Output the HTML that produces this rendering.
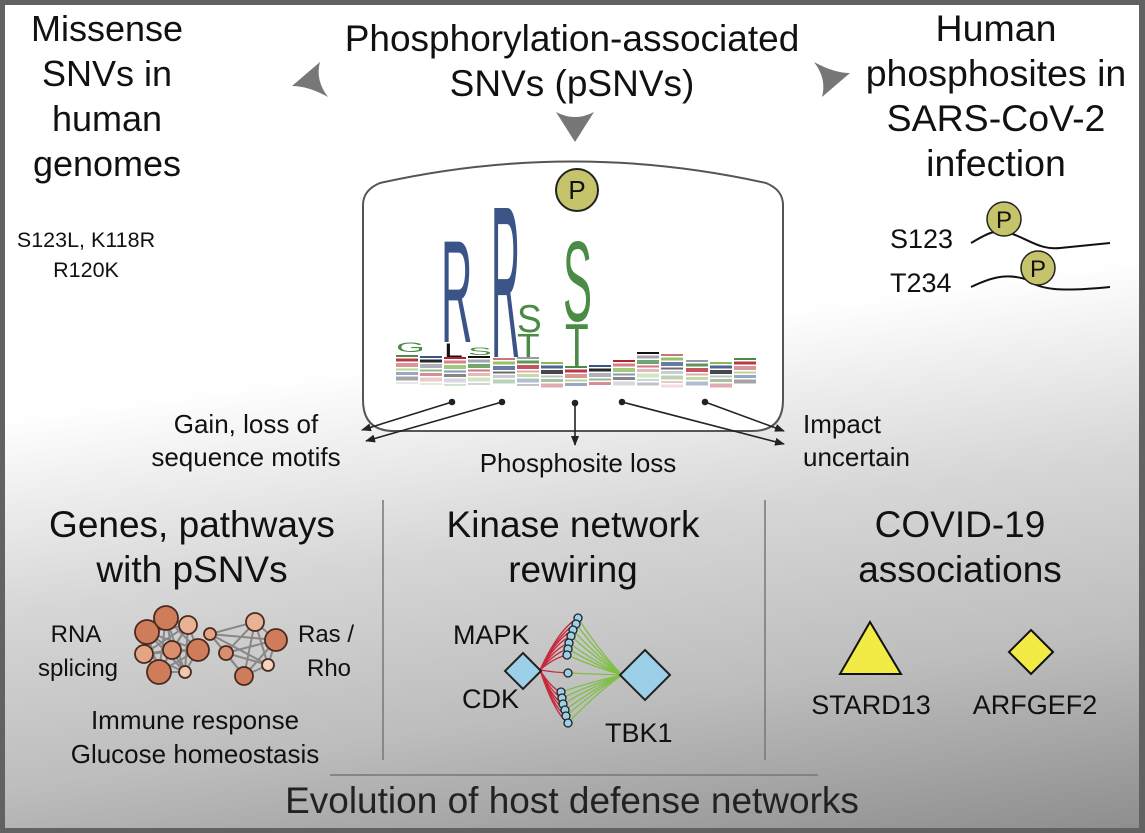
<!DOCTYPE html>
<html><head><meta charset="utf-8"><style>
html,body{margin:0;padding:0;width:1145px;height:833px;overflow:hidden;}
#wrap{position:relative;width:1145px;height:833px;background:#626262;}
#inner{position:absolute;left:5px;top:5px;width:1134px;height:823px;
background:linear-gradient(172deg,#ffffff 0%,#ffffff 42%,#d6d6d6 62%,#bdbdbd 80%,#8e8e8e 100%);}
svg{position:absolute;left:0;top:0;}
text{font-family:"Liberation Sans",sans-serif;fill:#111;}
</style></head><body>
<div id="wrap">
<div id="inner"></div>
<svg width="1145" height="833" viewBox="0 0 1145 833">
<defs>
<marker id="ah" markerWidth="10" markerHeight="8" refX="9" refY="4" orient="auto" markerUnits="userSpaceOnUse"><path d="M0,0 L10,4 L0,8 z" fill="#222"/></marker>
</defs>

<g font-size="36" text-anchor="middle">
<text x="107" y="41">Missense</text><text x="107" y="86">SNVs in</text><text x="107" y="131">human</text><text x="107" y="176">genomes</text>
</g>
<g font-size="37" text-anchor="middle">
<text x="572" y="51">Phosphorylation-associated</text><text x="572" y="96">SNVs (pSNVs)</text>
</g>
<g font-size="37.5" text-anchor="middle">
<text x="996" y="41">Human</text><text x="996" y="86">phosphosites in</text><text x="996" y="131">SARS-CoV-2</text><text x="996" y="176">infection</text>
</g>

<path d="M292,86 L320,62 Q315,80 328,97 Q308,86 292,86z" fill="#777"/>
<path d="M575,142 L556,112 Q575,122 594,112z" fill="#777"/>
<path d="M850,73 L822,97 Q827,79 814,62 Q834,73 850,73z" fill="#777"/>

<g font-size="21.5" text-anchor="middle">
<text x="86" y="247">S123L, K118R</text><text x="86" y="277">R120K</text>
</g>

<g>
<text x="890" y="248" font-size="27">S123</text>
<text x="890" y="292" font-size="27">T234</text>
<path d="M971,243 C985,235 995,228 1010,233 C1030,240 1040,250 1060,248 L1110,243" fill="none" stroke="#111" stroke-width="2"/>
<path d="M971,287 C990,278 1005,273 1025,279 C1040,290 1060,292 1110,287" fill="none" stroke="#111" stroke-width="2"/>
<circle cx="1004" cy="219" r="17" fill="#c6c46a" stroke="#222" stroke-width="1.5"/><text x="1004" y="228" font-size="24" text-anchor="middle">P</text>
<circle cx="1038" cy="268" r="17" fill="#c6c46a" stroke="#222" stroke-width="1.5"/><text x="1038" y="277" font-size="24" text-anchor="middle">P</text>
</g>

<path d="M363,205 Q363,190 380,183 Q573,140 766,183 Q783,190 783,205 L783,400 Q783,431 752,431 L394,431 Q363,431 363,400 Z" fill="#fff" stroke="#555" stroke-width="2"/>
<circle cx="577" cy="190" r="21" fill="#c6c46a" stroke="#222" stroke-width="2"/>
<text x="577" y="199" font-size="26" text-anchor="middle">P</text>

<g id="logo"></g>

<g stroke="#222" stroke-width="1.6" fill="#222">
<line x1="452" y1="402" x2="362" y2="430" marker-end="url(#ah)"/>
<line x1="502" y1="402" x2="366" y2="441" marker-end="url(#ah)"/>
<line x1="575" y1="403" x2="575" y2="445" marker-end="url(#ah)"/>
<line x1="622" y1="402" x2="784" y2="444" marker-end="url(#ah)"/>
<line x1="705" y1="402" x2="784" y2="431" marker-end="url(#ah)"/>
<circle cx="452" cy="402" r="2.5"/><circle cx="502" cy="402" r="2.5"/><circle cx="575" cy="403" r="2.5"/><circle cx="622" cy="402" r="2.5"/><circle cx="705" cy="402" r="2.5"/>
</g>
<g font-size="26">
<text x="246" y="433" text-anchor="middle">Gain, loss of</text>
<text x="246" y="466" text-anchor="middle">sequence motifs</text>
<text x="578" y="472" text-anchor="middle">Phosphosite loss</text>
<text x="803" y="433">Impact</text><text x="803" y="466">uncertain</text>
</g>

<g stroke="#777" stroke-width="1.5">
<line x1="383" y1="500" x2="383" y2="760"/><line x1="765" y1="500" x2="765" y2="760"/>
<line x1="330" y1="775" x2="818" y2="775"/>
</g>

<g font-size="37" text-anchor="middle">
<text x="192" y="537">Genes, pathways</text><text x="192" y="582">with pSNVs</text>
<text x="573" y="537">Kinase network</text><text x="573" y="582">rewiring</text>
<text x="960" y="537">COVID-19</text><text x="960" y="582">associations</text>
</g>

<g id="nets"></g>
<g>
<text x="76" y="642" text-anchor="middle" font-size="24">RNA</text><text x="78" y="676" text-anchor="middle" font-size="24">splicing</text>
<text x="298" y="642" font-size="24">Ras /</text><text x="307" y="676" font-size="24">Rho</text>
<text x="195" y="729" text-anchor="middle" font-size="26">Immune response</text>
<text x="195" y="763" text-anchor="middle" font-size="26">Glucose homeostasis</text>
</g>

<g id="kin"></g>
<g font-size="27">
<text x="453" y="644">MAPK</text><text x="462" y="708">CDK</text><text x="605" y="742">TBK1</text>
</g>

<polygon points="870,622 840,674 901,674" fill="#f2ea45" stroke="#111" stroke-width="2"/>
<polygon points="1031,630 1053,652 1031,674 1009,652" fill="#f2ea45" stroke="#111" stroke-width="2"/>
<g font-size="27" text-anchor="middle">
<text x="871" y="714">STARD13</text><text x="1035" y="714">ARFGEF2</text>
</g>

<text x="572" y="813" font-size="37" text-anchor="middle" style="fill:#222">Evolution of host defense networks</text>
</svg>
</div>
<script>
const NS="http://www.w3.org/2000/svg";
function mk(tag,attrs,parent){const e=document.createElementNS(NS,tag);for(const k in attrs)e.setAttribute(k,attrs[k]);parent.appendChild(e);return e;}
const logoLetters=[["R","#3a5488",441,342,27,105],["R","#3a5488",491,357,25,156],["S","#4a8c45",517,332,23,28],["T","#4a8c45",517,357,23,24],["S","#4a8c45",563,321,27,82],["T","#4a8c45",565,367,24,45],["G","#4a8c45",396,352,23,10],["L","#111",444,357,21,14],["S","#4a8c45",468,355,22,8]];
const logo=document.getElementById('logo');
logoLetters.forEach(l=>{
  const t=mk('text',{transform:`translate(${l[2]},${l[3]}) scale(${l[4]/62},${l[5]/72})`,'font-size':100,style:'fill:'+l[1]},logo);
  
  
  t.textContent=l[0];
});
const cols=[396,420,444,468,493,517,541,565,589,613,637,661,686,710,734];
const palette=["#4a8c45","#3a5488","#b22234","#111","#c77","#99a","#8b5"];
const tops=[355,356,357,356,358,357,362,366,365,360,352,354,360,362,358];
cols.forEach((x,i)=>{
  let y=tops[i];let k=0;
  while(y<385){const h=2+((i*3+k)%3);const r=mk('rect',{x:x,y:y,width:22,height:h,fill:palette[(i+k*2)%palette.length],opacity:Math.max(0.25,1-(y-tops[i])/35)},logo);
    
    
    y+=h+1.5;k++;}
});
const nodesA=[[147,632,12,"#cf7c5a"],[166,618,12,"#cf7c5a"],[188,625,9,"#e8b295"],[144,654,9,"#e3a583"],[172,650,9,"#d98e6e"],[198,650,11,"#cf7c5a"],[159,672,12,"#cf7c5a"],[185,672,6,"#f0c8b0"]];
const nodesB=[[210,634,6,"#e3a583"],[255,622,9,"#e8b295"],[276,640,11,"#cf7c5a"],[226,653,7,"#d98e6e"],[268,665,6,"#f5d5c0"],[244,676,9,"#cf7c5a"]];
const nets=document.getElementById('nets');
[nodesA,nodesB].forEach(ns=>{
  for(let i=0;i<ns.length;i++)for(let j=i+1;j<ns.length;j++){const e=mk('line',{x1:ns[i][0],y1:ns[i][1],x2:ns[j][0],y2:ns[j][1],stroke:"#888","stroke-width":2},nets);
    
    }
  ns.forEach(n=>{const c=mk('circle',{cx:n[0],cy:n[1],r:n[2],fill:n[3],stroke:"#4a2a20","stroke-width":1.8},nets);
    
    });
});
const kin=document.getElementById('kin');
const subs=[[578,618],[576,624],[573,630],[571,636],[569,643],[568,649],[567,655],[568,673],[561,692],[562,698],[563,704],[565,710],[566,716],[568,723]];
subs.forEach(s=>{
  const a=mk('path',{d:`M540,670 Q${(540+s[0])/2},${s[1]+(670-s[1])*0.2} ${s[0]},${s[1]}`,stroke:"#c8283c",fill:"none","stroke-width":1.3},kin);
  
  
  const b=mk('path',{d:`M${s[0]},${s[1]} Q${(622+s[0])/2},${s[1]+(675-s[1])*0.6} 622,675`,stroke:"#7fbf45",fill:"none","stroke-width":1.3},kin);
  
  
});
subs.forEach(s=>{const c=mk('circle',{cx:s[0],cy:s[1],r:4,fill:"#9ccfe8",stroke:"#222","stroke-width":1.3},kin);
  
  });
const d1=mk('polygon',{points:"523,653 541,671 523,689 505,671",fill:"#9ccfe8",stroke:"#222","stroke-width":2},kin);


const d2=mk('polygon',{points:"645,650 670,675 645,700 620,675",fill:"#9ccfe8",stroke:"#222","stroke-width":2},kin);


</script>
</body></html>
